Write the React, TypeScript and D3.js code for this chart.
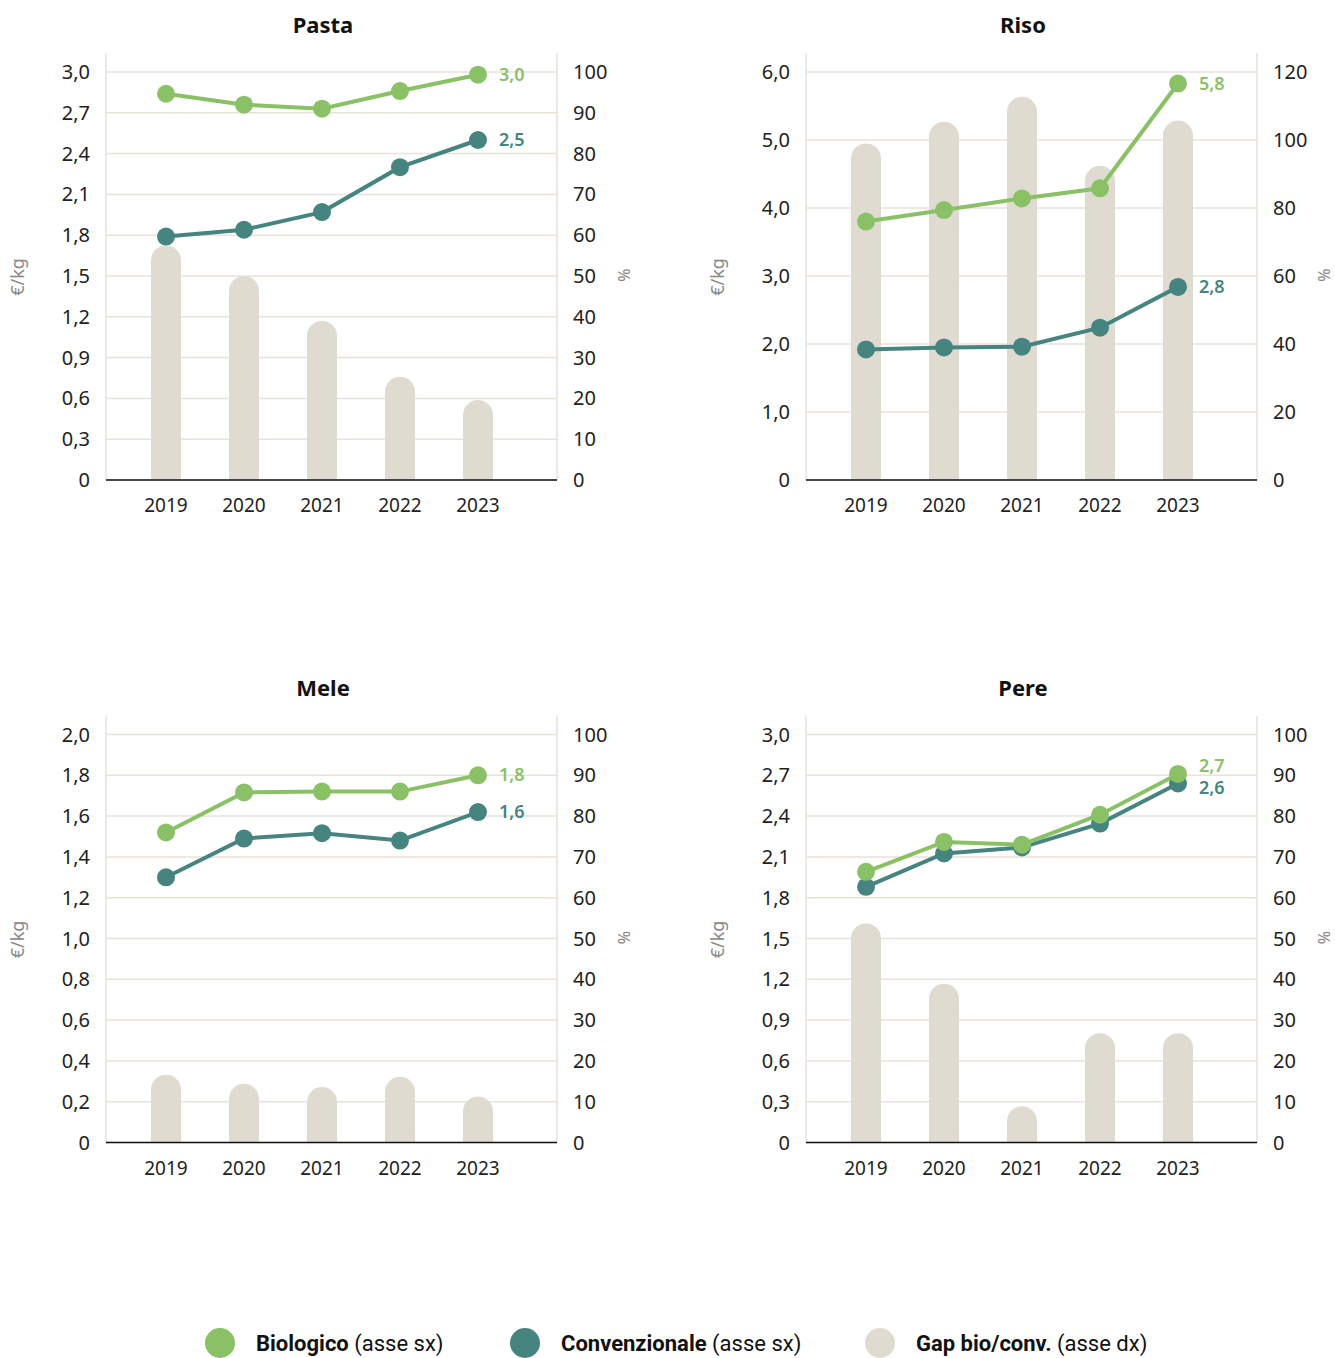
import React from "react";
import * as d3 from "d3";

const years = ["2019", "2020", "2021", "2022", "2023"];

const pastaBio = [2.84, 2.76, 2.73, 2.86, 2.98];
const pastaConv = [1.79, 1.84, 1.97, 2.3, 2.5];
const pastaGap = [57.5, 50, 39, 25.3, 19.6];

const risoBio = [3.8, 3.97, 4.14, 4.29, 5.83];
const risoConv = [1.92, 1.95, 1.96, 2.24, 2.84];
const risoGap = [99, 105.4, 112.7, 92.4, 105.7];

const meleBio = [1.52, 1.716, 1.72, 1.72, 1.8];
const meleConv = [1.3, 1.49, 1.516, 1.48, 1.62];
const meleGap = [16.6, 14.4, 13.6, 16.1, 11.3];

const pereBio = [1.99, 2.21, 2.19, 2.41, 2.71];
const pereConv = [1.88, 2.125, 2.17, 2.345, 2.64];
const pereGap = [53.7, 38.9, 8.9, 26.8, 26.8];

const pastaLeftTicks = [0, 0.3, 0.6, 0.9, 1.2, 1.5, 1.8, 2.1, 2.4, 2.7, 3.0];
const risoLeftTicks = [0, 1, 2, 3, 4, 5, 6];
const meleLeftTicks = [0, 0.2, 0.4, 0.6, 0.8, 1.0, 1.2, 1.4, 1.6, 1.8, 2.0];
const pereLeftTicks = [0, 0.3, 0.6, 0.9, 1.2, 1.5, 1.8, 2.1, 2.4, 2.7, 3.0];
const pctTicks100 = [0, 10, 20, 30, 40, 50, 60, 70, 80, 90, 100];
const pctTicks120 = [0, 20, 40, 60, 80, 100, 120];

const legendItems = [
  { bold: "Biologico", rest: " (asse sx)", color: "#8bc166" },
  { bold: "Convenzionale", rest: " (asse sx)", color: "#468480" },
  { bold: "Gap bio/conv.", rest: " (asse dx)", color: "#e0dbd1" },
];

const C_BIO = "#8bc166";
const C_CONV = "#468480";
const C_BAR = "#e0dbd1";
const C_GRID = "#e8e3da";
const FONT = "'Noto Sans', 'Open Sans', sans-serif";

const fmtDec = (v: number) => (v === 0 ? "0" : d3.format(".1f")(v).replace(".", ","));

type PanelProps = {
  title: string;
  ox: number;
  oy: number;
  bio: number[];
  conv: number[];
  gap: number[];
  leftTicks: number[];
  rightTicks: number[];
};

function Panel({ title, ox, oy, bio, conv, gap, leftTicks, rightTicks }: PanelProps) {
  const left = 106;
  const right = 557;
  const top = 72;
  const bottom = 480;
  const x = d3.scalePoint<string>().domain(years).range([left + 60, left + 372]);
  const yL = d3.scaleLinear().domain([0, d3.max(leftTicks)!]).range([bottom, top]);
  const yR = d3.scaleLinear().domain([0, d3.max(rightTicks)!]).range([bottom, top]);
  const line = d3
    .line<number>()
    .x((_, i) => x(years[i])!)
    .y((d) => yL(d));

  const bw = 30;
  const r = bw / 2;
  const barPath = (i: number) => {
    const cx = x(years[i])!;
    const yt = yR(gap[i]);
    const x0 = cx - r;
    const x1 = cx + r;
    return `M${x0},${bottom} L${x0},${yt + r} A${r},${r} 0 0 1 ${x1},${yt + r} L${x1},${bottom} Z`;
  };

  const lastIdx = years.length - 1;
  let yb = yL(bio[lastIdx]);
  let yc = yL(conv[lastIdx]);
  if (Math.abs(yb - yc) < 22) {
    const mid = (yb + yc) / 2 - 2;
    const sign = yb <= yc ? -1 : 1;
    yb = mid + sign * 11;
    yc = mid - sign * 11;
  }
  const lx = x(years[lastIdx])! + 21;

  return (
    <g transform={`translate(${ox},${oy})`}>
      <text x={323} y={33} textAnchor="middle" fontFamily={FONT} fontWeight={700} fontSize={22} fill="#111">
        {title}
      </text>
      {leftTicks.map((t) => (
        <line key={"g" + t} x1={left} x2={right} y1={yL(t)} y2={yL(t)} stroke={C_GRID} strokeWidth={1.5} />
      ))}
      <line x1={left} x2={left} y1={53} y2={bottom} stroke={C_GRID} strokeWidth={1.5} />
      <line x1={right} x2={right} y1={53} y2={bottom} stroke={C_GRID} strokeWidth={1.5} />
      {gap.map((_, i) => (
        <path key={"b" + i} d={barPath(i)} fill={C_BAR} />
      ))}
      <line x1={left} x2={right} y1={bottom} y2={bottom} stroke="#111" strokeWidth={1.5} />
      {leftTicks.map((t) => (
        <text key={"l" + t} x={90} y={yL(t) + 7} textAnchor="end" fontFamily={FONT} fontSize={20} fill="#222">
          {fmtDec(t)}
        </text>
      ))}
      {rightTicks.map((t) => (
        <text key={"r" + t} x={573} y={yR(t) + 7} textAnchor="start" fontFamily={FONT} fontSize={20} fill="#222">
          {t}
        </text>
      ))}
      {years.map((yr) => (
        <text key={yr} x={x(yr)!} y={512} textAnchor="middle" fontFamily={FONT} fontSize={19} fill="#222">
          {yr}
        </text>
      ))}
      <text
        transform={`translate(24,277) rotate(-90)`}
        textAnchor="middle"
        fontFamily={FONT}
        fontSize={18}
        fill="#888"
      >
        €/kg
      </text>
      <text
        transform={`translate(630,275) rotate(-90)`}
        textAnchor="middle"
        fontFamily={FONT}
        fontSize={16}
        fill="#888"
      >
        %
      </text>
      <path d={line(conv)!} fill="none" stroke={C_CONV} strokeWidth={4} />
      {conv.map((v, i) => (
        <circle key={"c" + i} cx={x(years[i])!} cy={yL(v)} r={9} fill={C_CONV} />
      ))}
      <path d={line(bio)!} fill="none" stroke={C_BIO} strokeWidth={4} />
      {bio.map((v, i) => (
        <circle key={"o" + i} cx={x(years[i])!} cy={yL(v)} r={9} fill={C_BIO} />
      ))}
      <text x={lx} y={yb + 6} fontFamily={FONT} fontSize={18} fontWeight={600} fill={C_BIO}>
        {fmtDec(bio[lastIdx])}
      </text>
      <text x={lx} y={yc + 6} fontFamily={FONT} fontSize={18} fontWeight={600} fill={C_CONV}>
        {fmtDec(conv[lastIdx])}
      </text>
    </g>
  );
}

export default function App() {
  const legendX = [220, 525, 880];
  return (
    <svg
      width={1335}
      height={1358}
      viewBox="0 0 1335 1358"
      style={{ position: "absolute", left: 0, top: 0, background: "#fff" }}
    >
      <rect width={1335} height={1358} fill="#fff" />
      <Panel title="Pasta" ox={0} oy={0} bio={pastaBio} conv={pastaConv} gap={pastaGap} leftTicks={pastaLeftTicks} rightTicks={pctTicks100} />
      <Panel title="Riso" ox={700} oy={0} bio={risoBio} conv={risoConv} gap={risoGap} leftTicks={risoLeftTicks} rightTicks={pctTicks120} />
      <Panel title="Mele" ox={0} oy={662.5} bio={meleBio} conv={meleConv} gap={meleGap} leftTicks={meleLeftTicks} rightTicks={pctTicks100} />
      <Panel title="Pere" ox={700} oy={662.5} bio={pereBio} conv={pereConv} gap={pereGap} leftTicks={pereLeftTicks} rightTicks={pctTicks100} />
      {legendItems.map((it, i) => (
        <g key={it.bold}>
          <circle cx={legendX[i]} cy={1343} r={15} fill={it.color} />
          <text x={legendX[i] + 36} y={1351} fontFamily="'Liberation Sans Narrow', 'Roboto', sans-serif" fontSize={22} fill="#111">
            <tspan fontWeight={700}>{it.bold}</tspan>
            <tspan fontWeight={400}>{it.rest}</tspan>
          </text>
        </g>
      ))}
    </svg>
  );
}
